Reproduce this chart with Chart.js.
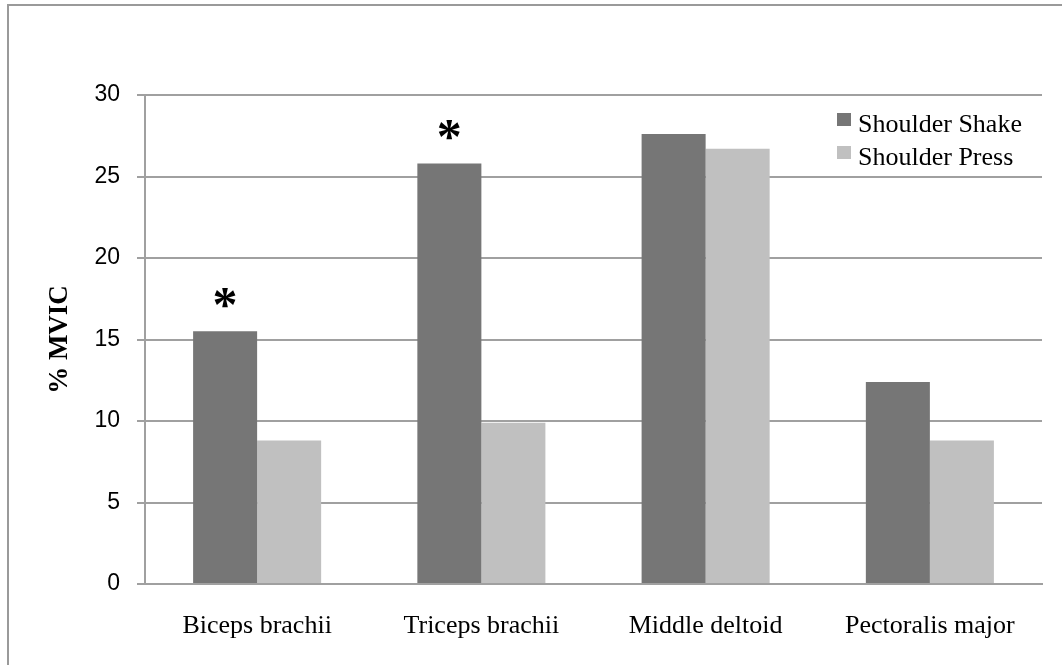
<!DOCTYPE html>
<html>
<head>
<meta charset="utf-8">
<script src="https://cdn.jsdelivr.net/npm/chart.js@4"></script>
<style>
  html, body { margin: 0; padding: 0; background: #fff; }
  #wrap { width: 1062px; height: 665px; position: relative; }
</style>
</head>
<body>
<div id="wrap"><canvas id="GraficoMVIC"></canvas></div>
<script>
// datos
var musculos = ['Biceps brachii', 'Triceps brachii', 'Middle deltoid', 'Pectoralis major'];
var shake = [15.5, 25.8, 27.6, 12.4];
var press = [8.8, 9.9, 26.7, 8.8];
var significativo = [true, true, false, false]; // asterisco sobre Shoulder Shake
var ticksY = [0, 5, 10, 15, 20, 25, 30];

var gris = '#a0a0a0';

// marco, asteriscos y leyenda
var extras = {
  id: 'extras',
  beforeDraw: function (chart) {
    var c = chart.ctx;
    c.save();
    c.fillStyle = '#fff';
    c.fillRect(0, 0, chart.width, chart.height);
    c.strokeStyle = '#9a9a9a';
    c.lineWidth = 2;
    c.beginPath();
    c.moveTo(chart.width, 5);
    c.lineTo(8, 5);
    c.lineTo(8, chart.height);
    c.stroke();
    c.restore();
  },
  afterDatasetsDraw: function (chart) {
    var c = chart.ctx;
    var meta = chart.getDatasetMeta(0);
    c.save();
    c.fillStyle = '#000';
    c.font = 'bold 50px "Liberation Serif"';
    c.textAlign = 'center';
    c.textBaseline = 'alphabetic';
    var m = c.measureText('*');
    significativo.forEach(function (s, i) {
      if (!s) return;
      var bar = meta.data[i];
      var cy = bar.y - 33;
      var off = (m.actualBoundingBoxAscent - m.actualBoundingBoxDescent) / 2;
      c.fillText('*', bar.x, cy + off);
    });
    // leyenda
    c.font = '26px "Liberation Serif"';
    c.textAlign = 'left';
    chart.data.datasets.forEach(function (ds, i) {
      var y = 132 + i * 33;
      c.fillStyle = ds.backgroundColor;
      c.fillRect(837, y - 19, 14, 13);
      c.fillStyle = '#000';
      c.fillText(ds.label, 858, y);
    });
    c.restore();
  }
};

var ctx = document.getElementById('GraficoMVIC').getContext('2d');
var data = {
  labels: musculos,
  datasets: [{
    label: 'Shoulder Shake',
    backgroundColor: '#767676',
    data: shake
  }, {
    label: 'Shoulder Press',
    backgroundColor: '#c0c0c0',
    data: press
  }]
};
var options = {
  responsive: true,
  maintainAspectRatio: false,
  animation: false,
  layout: { padding: { top: 95, right: 20, left: 0, bottom: 0 } },
  plugins: {
    legend: { display: false },
    tooltip: { enabled: false }
  },
  datasets: {
    bar: { categoryPercentage: 0.571, barPercentage: 1.0 }
  },
  scales: {
    x: {
      grid: { display: false },
      border: { display: true, color: gris, width: 2 },
      ticks: {
        color: '#000',
        padding: 19,
        font: { family: 'Liberation Serif', size: 26 }
      },
      afterFit: function (s) { s.height = 81; }
    },
    y: {
      min: 0,
      max: 30,
      afterBuildTicks: function (s) {
        s.ticks = ticksY.map(function (v) { return { value: v }; });
      },
      grid: { color: gris, lineWidth: 2, tickLength: 8 },
      border: { display: true, color: gris, width: 2 },
      ticks: {
        color: '#000',
        padding: 17,
        font: { family: 'Liberation Sans', size: 23 }
      },
      title: {
        display: true,
        text: '% MVIC',
        color: '#000',
        padding: { top: 44, bottom: 0 },
        font: { family: 'Liberation Serif', size: 27, weight: 'bold' }
      },
      afterFit: function (s) { s.width = 145; }
    }
  }
};
var GraficoMVIC = new Chart(ctx, {
  type: 'bar',
  data: data,
  options: options,
  plugins: [extras]
});
</script>
</body>
</html>
